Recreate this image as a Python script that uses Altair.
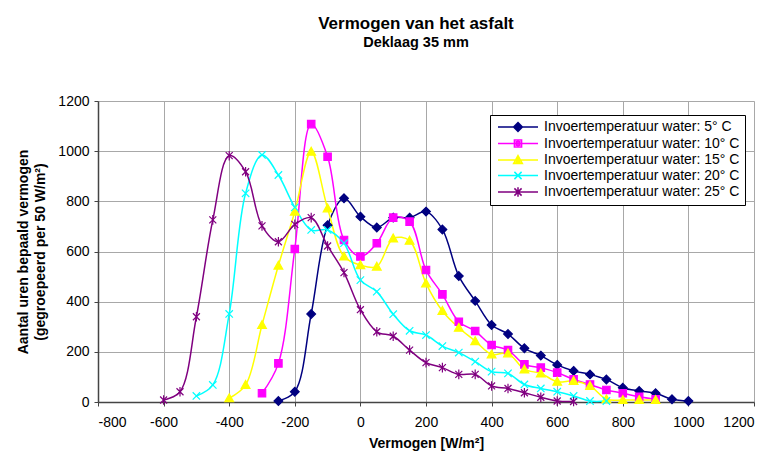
import altair as alt
import pandas as pd

names = [
    "Invoertemperatuur water: 5° C",
    "Invoertemperatuur water: 10° C",
    "Invoertemperatuur water: 15° C",
    "Invoertemperatuur water: 20° C",
    "Invoertemperatuur water: 25° C",
]
colors = ["#000080", "#FF00FF", "#FFFF00", "#00FFFF", "#800080"]

x5 = list(range(-250, 1001, 50))
y5 = [4, 41, 351, 705, 812, 739, 696, 735, 735, 759, 688, 502, 403, 307, 271,
      214, 185, 148, 124, 110, 90, 57, 44, 35, 11, 4]
x10 = list(range(-300, 901, 50))
y10 = [35, 154, 610, 1108, 978, 646, 580, 633, 735, 719, 526, 429, 320, 283,
       227, 207, 150, 137, 117, 90, 70, 48, 35, 21, 11]
x15 = list(range(-400, 901, 50))
y15 = [15, 68, 307, 544, 759, 998, 772, 580, 546, 540, 652, 643, 473, 363, 296,
       243, 190, 194, 130, 114, 81, 84, 64, 11, 8, 8, 8]
x20 = list(range(-500, 751, 50))
y20 = [24, 68, 351, 832, 985, 905, 776, 686, 686, 633, 486, 440, 350, 284, 267,
       223, 197, 161, 121, 114, 70, 54, 41, 24, 4, 4]
x25 = list(range(-600, 651, 50))
y25 = [8, 41, 340, 726, 982, 918, 702, 639, 708, 735, 622, 516, 368, 280, 262,
       207, 157, 137, 110, 110, 64, 54, 37, 19, 4, 2]

series_x = [x5, x10, x15, x20, x25]
series_y = [y5, y10, y15, y20, y25]

rows = []
for n, xs, ys in zip(names, series_x, series_y):
    for xv, yv in zip(xs, ys):
        rows.append({"series": n, "x": xv, "y": yv})
df = pd.DataFrame(rows)

marker_paths = [
    "M0,-1L1,0L0,1L-1,0Z",
    "M-0.85,-0.85L0.85,-0.85L0.85,0.85L-0.85,0.85Z",
    "M0,-1L1,0.8L-1,0.8Z",
    "M-0.85,-0.85L0.85,0.85M-0.85,0.85L0.85,-0.85",
    "M-0.8,-0.8L0.8,0.8M-0.8,0.8L0.8,-0.8M0,-1.1L0,1.1",
]
legend_paths = [
    "M-5,0L5,0M0,-1.1L1.1,0L0,1.1L-1.1,0ZM0,-0.55L0.55,0L0,0.55L-0.55,0ZM0,-1.1L0,1.1",
    "M-5,0L5,0M-0.9,-0.9L0.9,-0.9L0.9,0.9L-0.9,0.9ZM-0.45,-0.45L0.45,-0.45L0.45,0.45L-0.45,0.45ZM0,-0.9L0,0.9",
    "M-5,0L5,0M0,-1.1L1.1,0.9L-1.1,0.9ZM0,-0.3L0.45,0.55L-0.45,0.55ZM0,-1.1L0,0.9",
    "M-5,0L5,0M-0.9,-0.9L0.9,0.9M-0.9,0.9L0.9,-0.9",
    "M-5,0L5,0M-0.9,-0.9L0.9,0.9M-0.9,0.9L0.9,-0.9M0,-1.2L0,1.2",
]

FONT = "Liberation Sans"

xscale = alt.Scale(domain=[-800, 1200], nice=False, zero=False)
yscale = alt.Scale(domain=[0, 1200], nice=False)

grid_cond = {"condition": {"test": "datum.value % 200 === 0", "value": "#a8a8a8"}, "value": "#e6e6e6"}
tick_cond = {"condition": {"test": "datum.value % 200 === 0", "value": "#444444"}, "value": "transparent"}

xaxis = alt.Axis(
    values=list(range(-800, 1201, 50)),
    labelExpr="datum.value % 200 === 0 ? '' + datum.value : ''",
    gridColor=grid_cond, tickColor=tick_cond, tickSize=4,
    domainColor="#444444", domainWidth=1.5,
    labelFont=FONT, labelFontSize=14, labelColor="#000", labelPadding=9,
    title="Vermogen [W/m²]", titleFont=FONT, titleFontSize=14,
    titleFontWeight="bold", titlePadding=7, titleColor="#000",
    labelOverlap=False,
)
yaxis = alt.Axis(
    values=list(range(0, 1201, 50)),
    labelExpr="datum.value % 200 === 0 ? '' + datum.value : ''",
    gridColor=grid_cond, tickColor=tick_cond, tickSize=4,
    domainColor="#444444", domainWidth=1.5,
    labelFont=FONT, labelFontSize=14, labelColor="#000", labelPadding=5,
    title=["Aantal uren bepaald vermogen", "(gegroepeerd per 50 W/m²)"],
    titleFont=FONT, titleFontSize=14, titleFontWeight="bold", titleLineHeight=17.5,
    titlePadding=10, titleColor="#000", labelOverlap=False,
)

legend_cfg = dict(
    title=None, orient="none", legendX=392, legendY=14,
    padding=5, strokeColor="#000000", fillColor="#ffffff",
    symbolSize=64, symbolOffset=16, labelOffset=19,
    labelFont=FONT, labelFontSize=14, labelColor="#000", labelLimit=400,
    rowPadding=1.5, symbolStrokeWidth=1.5,
)

base = alt.Chart(df)

legend_layer = base.transform_filter("false").mark_point(
    filled=False, strokeWidth=1.5, size=64, opacity=1
).encode(
    x=alt.X("x:Q", scale=xscale, axis=xaxis),
    y=alt.Y("y:Q", scale=yscale, axis=yaxis),
    color=alt.Color("series:N", scale=alt.Scale(domain=names, range=colors),
                    legend=alt.Legend(**legend_cfg)),
    shape=alt.Shape("series:N", scale=alt.Scale(domain=names, range=legend_paths),
                    legend=alt.Legend(**legend_cfg)),
)

lines = base.mark_line(interpolate="catmull-rom", strokeWidth=1.5).encode(
    x=alt.X("x:Q", scale=xscale, axis=xaxis),
    y=alt.Y("y:Q", scale=yscale, axis=yaxis),
    color=alt.Color("series:N", scale=alt.Scale(domain=names, range=colors),
                    legend=alt.Legend(**legend_cfg)),
    order=alt.Order("x:Q"),
)

point_layers = []
for n, c, p in zip(names, colors, marker_paths):
    point_layers.append(
        base.transform_filter(alt.datum.series == n).mark_point(
            shape=p, filled=True, color=c, stroke=c, strokeWidth=1.2, size=76, opacity=1
        ).encode(x=alt.X("x:Q", scale=xscale), y=alt.Y("y:Q", scale=yscale))
    )

chart = alt.layer(legend_layer, lines, *point_layers).properties(
    width=656, height=301,
    title=alt.TitleParams(
        text="Vermogen van het asfalt", subtitle="Deklaag 35 mm",
        font=FONT, fontSize=17, fontWeight="bold", color="#000",
        subtitleFont=FONT, subtitleFontSize=14.5, subtitleFontWeight="bold",
        subtitleColor="#000", subtitlePadding=3, anchor="middle", dx=-10, offset=44,
    ),
    padding={"left": 98, "top": 101, "right": 13, "bottom": 60},
    autosize="none",
).configure_view(stroke="#555555", strokeWidth=1.5).configure(background="white")

chart.save("out.html", embed_options={"renderer": "svg", "actions": False})
